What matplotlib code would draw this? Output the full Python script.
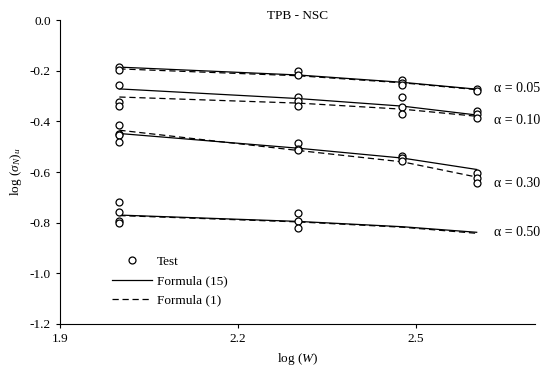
import numpy as np
import matplotlib
matplotlib.use('Agg')
import matplotlib.pyplot as plt

plt.rcParams['font.family'] = 'Liberation Serif'
plt.rcParams['mathtext.fontset'] = 'custom'
plt.rcParams['mathtext.rm'] = 'Liberation Serif'
plt.rcParams['mathtext.it'] = 'Liberation Serif:italic'
plt.rcParams['axes.unicode_minus'] = False

# log(W) for W = 100, 200, 300, 400
logw = [2.000, 2.301, 2.477, 2.602]
alphas = ['0.05', '0.10', '0.30', '0.50']

# test points per alpha
test_x = {
    '0.05': [2.000, 2.000, 2.301, 2.301, 2.477, 2.477, 2.477, 2.602, 2.602],
    '0.10': [2.000, 2.000, 2.000, 2.301, 2.301, 2.301, 2.477, 2.477, 2.477, 2.602, 2.602, 2.602],
    '0.30': [2.000, 2.000, 2.000, 2.000, 2.301, 2.301, 2.301, 2.477, 2.477, 2.477, 2.602, 2.602, 2.602],
    '0.50': [2.000, 2.000, 2.000, 2.000, 2.301, 2.301, 2.301],
}
test_y = {
    '0.05': [-0.186, -0.197, -0.201, -0.217, -0.237, -0.249, -0.257, -0.272, -0.280],
    '0.10': [-0.257, -0.323, -0.339, -0.305, -0.320, -0.340, -0.303, -0.342, -0.372, -0.359, -0.372, -0.388],
    '0.30': [-0.415, -0.450, -0.455, -0.480, -0.485, -0.510, -0.515, -0.535, -0.545, -0.555, -0.605, -0.625, -0.645],
    '0.50': [-0.720, -0.758, -0.795, -0.800, -0.763, -0.792, -0.820],
}

# Formula (15) and Formula (1) at logw
f15 = {
    '0.05': [-0.186, -0.217, -0.246, -0.273],
    '0.10': [-0.272, -0.310, -0.340, -0.375],
    '0.30': [-0.448, -0.506, -0.545, -0.590],
    '0.50': [-0.770, -0.795, -0.816, -0.838],
}
f1 = {
    '0.05': [-0.193, -0.220, -0.248, -0.275],
    '0.10': [-0.304, -0.328, -0.352, -0.380],
    '0.30': [-0.435, -0.515, -0.560, -0.620],
    '0.50': [-0.772, -0.797, -0.818, -0.842],
}
label_y = {'0.05': -0.272, '0.10': -0.396, '0.30': -0.645, '0.50': -0.84}
yticks = [-1.2, -1.0, -0.8, -0.6, -0.4, -0.2, 0.0]
ytick_labels = ['-1.2', '-1.0', '-0.8', '-0.6', '-0.4', '-0.2', '0.0']

fig = plt.figure(figsize=(5.43, 3.74), dpi=100)
ax = fig.add_axes([0.1105, 0.1337, 0.8745, 0.8128])

for i, a in enumerate(alphas):
    ax.plot(test_x[a], test_y[a], 'o', mfc='white', mec='black', ms=5, mew=0.9,
            linestyle='none', label='Test' if i == 0 else None, zorder=3)
    ax.plot(logw, f15[a], '-', color='black', lw=0.9,
            label='Formula (15)' if i == 0 else None)
    ax.plot(logw, f1[a], '--', color='black', lw=0.9, dashes=(5, 3),
            label='Formula (1)' if i == 0 else None)
    ax.text(2.632, label_y[a], '\u03b1 = ' + a, fontsize=10, va='center', ha='left')

ax.set_xlim(1.9, 2.70)
ax.set_ylim(-1.2, 0.0)
ax.set_xticks([1.9, 2.2, 2.5])
ax.set_xticklabels(['1.9', '2.2', '2.5'])
ax.set_yticks(yticks)
ax.set_yticklabels(ytick_labels)
ax.spines['top'].set_visible(False)
ax.spines['right'].set_visible(False)
ax.tick_params(direction='out', length=3, width=0.8, labelsize=9.5)

ax.set_xlabel(r'log ($W$)', fontsize=9.5)
ax.set_ylabel(r'log ($\sigma_N$)$_u$', fontsize=9.5)
ax.set_title('TPB - NSC', fontsize=9.5, y=0.975)

ax.legend(loc='lower left', bbox_to_anchor=(0.085, 0.018), frameon=False, fontsize=9.5,
          handlelength=3.0, labelspacing=0.55, handletextpad=0.4)

plt.savefig('out.png', dpi=100)
